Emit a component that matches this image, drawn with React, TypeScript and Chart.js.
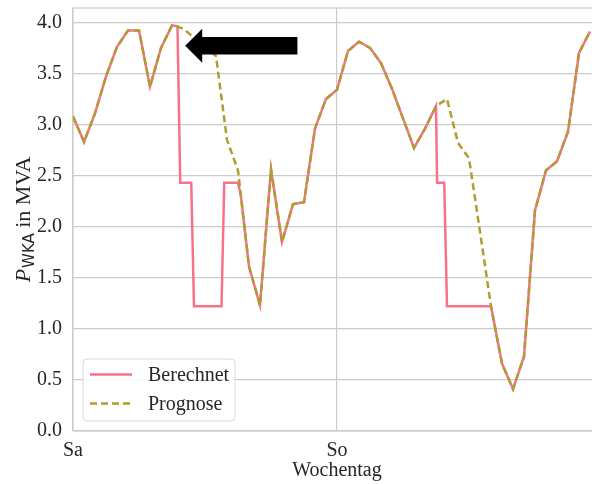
import React, { useEffect, useRef } from "react";
import { Chart, registerables } from "chart.js";

Chart.register(...registerables);

// ---------- data ----------
const DAY_LABELS = ["Sa", "So"];
const DAY_TICK_HOURS = [0, 24];

const PROGNOSE_HOURS = [
  0, 1, 2, 3, 4, 5, 6, 7, 8, 9, 10, 11, 12, 13, 14, 15, 16, 17, 18, 19, 20, 21, 22, 23,
  24, 25, 26, 27, 28, 29, 30, 31, 32, 33, 34, 35, 36, 37, 38, 39, 40, 41, 42, 43, 44, 45, 46, 47,
];
const PROGNOSE_VALUES = [
  3.08, 2.83, 3.11, 3.47, 3.76, 3.92, 3.92, 3.37, 3.75, 3.97, 3.94, 3.85, 3.76, 3.67, 2.85, 2.55,
  1.61, 1.23, 2.56, 1.85, 2.22, 2.24, 2.96, 3.25, 3.34, 3.72, 3.81, 3.75, 3.6, 3.35, 3.06, 2.77,
  2.96, 3.18, 3.25, 2.82, 2.67, 1.95, 1.22, 0.66, 0.41, 0.73, 2.16, 2.55, 2.64, 2.93, 3.7, 3.91,
];

const BERECHNET_HOURS = [
  0, 1, 2, 3, 4, 5, 6, 7, 8, 9, 9.5, 9.75, 10.75, 11, 13.5, 13.75, 15, 15.25, 16, 17, 18, 19, 20,
  21, 22, 23, 24, 25, 26, 27, 28, 29, 30, 31, 32, 33, 33.1, 33.75, 34, 38, 39, 40, 41, 42, 43, 44,
  45, 46, 47,
];
const BERECHNET_VALUES = [
  3.08, 2.83, 3.11, 3.47, 3.76, 3.92, 3.92, 3.37, 3.75, 3.97, 3.96, 2.43, 2.43, 1.22, 1.22, 2.43,
  2.43, 2.31, 1.61, 1.23, 2.56, 1.85, 2.22, 2.24, 2.96, 3.25, 3.34, 3.72, 3.81, 3.75, 3.6, 3.35,
  3.06, 2.77, 2.96, 3.18, 2.43, 2.43, 1.22, 1.22, 0.66, 0.41, 0.73, 2.16, 2.55, 2.64, 2.93, 3.7,
  3.91,
];

const SERIES_LABELS = ["Berechnet", "Prognose"];
const X_MIN = 0;
const X_MAX = 48;
const Y_MIN = 0;
const Y_MAX = 4.14;
const Y_STEP = 0.5;

// arrow annotation (data coordinates)
const ARROW_TIP_HOUR = 10.2;
const ARROW_TAIL_HOUR = 20.4;
const ARROW_VALUE = 3.77;

// ---------- styles ----------
const SERIF = "'Liberation Serif', 'Times New Roman', Times, serif";
const TEXT_COLOR = "#262626";
const GRID_COLOR = "#cccccc";
const PINK = "#f77189";
const OLIVE = "#ae9d31";
const DASH = [7, 4];

const framePlugin = {
  id: "frame",
  beforeDatasetsDraw(chart: any) {
    const { ctx, chartArea } = chart;
    ctx.save();
    ctx.strokeStyle = GRID_COLOR;
    ctx.lineWidth = 1.2;
    ctx.strokeRect(chartArea.left, chartArea.top, chartArea.right - chartArea.left, chartArea.bottom - chartArea.top);
    ctx.restore();
  },
};

const overlayPlugin = {
  id: "overlay",
  afterDraw(chart: any) {
    const { ctx, chartArea, scales } = chart;

    // ---- y axis title with subscript ----
    const cy = (chartArea.top + chartArea.bottom) / 2;
    const baseX = 30;
    ctx.save();
    ctx.translate(baseX, cy);
    ctx.rotate(-Math.PI / 2);
    const fMain = `22px ${SERIF}`;
    const fItal = `italic 22px ${SERIF}`;
    const fSub = "15px 'DejaVu Sans', sans-serif";
    ctx.font = fItal;
    const wP = ctx.measureText("P").width;
    ctx.font = fSub;
    const wS = ctx.measureText("WKA").width;
    ctx.font = fMain;
    const wR = ctx.measureText(" in MVA").width;
    const total = wP + 1 + wS + wR;
    let x = -total / 2;
    ctx.textBaseline = "alphabetic";
    ctx.textAlign = "left";
    ctx.fillStyle = TEXT_COLOR;
    ctx.font = fItal;
    ctx.fillText("P", x, 0);
    x += wP + 1;
    ctx.font = fSub;
    ctx.fillText("WKA", x, 4);
    x += wS;
    ctx.font = fMain;
    ctx.fillText(" in MVA", x, 0);
    ctx.restore();

    // ---- arrow ----
    const xs = scales.x;
    const ys = scales.y;
    const tipX = xs.getPixelForValue(ARROW_TIP_HOUR);
    const tailX = xs.getPixelForValue(ARROW_TAIL_HOUR);
    const ay = ys.getPixelForValue(ARROW_VALUE);
    const headLen = 17;
    const headHalf = 17;
    const shaftHalf = 8.7;
    ctx.save();
    ctx.fillStyle = "#000000";
    ctx.beginPath();
    ctx.moveTo(tipX, ay);
    ctx.lineTo(tipX + headLen, ay - headHalf);
    ctx.lineTo(tipX + headLen, ay - shaftHalf);
    ctx.lineTo(tailX, ay - shaftHalf);
    ctx.lineTo(tailX, ay + shaftHalf);
    ctx.lineTo(tipX + headLen, ay + shaftHalf);
    ctx.lineTo(tipX + headLen, ay + headHalf);
    ctx.closePath();
    ctx.fill();
    ctx.restore();

    // ---- legend ----
    const boxLeft = chartArea.left + 10;
    const boxBottom = chartArea.bottom - 10;
    const boxH = 62;
    const boxW = 152;
    const boxTop = boxBottom - boxH;
    ctx.save();
    ctx.beginPath();
    const r = 4;
    ctx.moveTo(boxLeft + r, boxTop);
    ctx.arcTo(boxLeft + boxW, boxTop, boxLeft + boxW, boxTop + boxH, r);
    ctx.arcTo(boxLeft + boxW, boxTop + boxH, boxLeft, boxTop + boxH, r);
    ctx.arcTo(boxLeft, boxTop + boxH, boxLeft, boxTop, r);
    ctx.arcTo(boxLeft, boxTop, boxLeft + boxW, boxTop, r);
    ctx.closePath();
    ctx.fillStyle = "rgba(255,255,255,0.8)";
    ctx.fill();
    ctx.strokeStyle = "#d9d9d9";
    ctx.lineWidth = 1;
    ctx.stroke();

    const datasets = chart.data.datasets;
    const rowYs = [boxTop + 15.5, boxTop + 44.5];
    datasets.forEach((ds: any, i: number) => {
      const y = rowYs[i];
      ctx.beginPath();
      ctx.setLineDash(ds.borderDash || []);
      ctx.strokeStyle = ds.borderColor;
      ctx.lineWidth = ds.borderWidth;
      ctx.moveTo(boxLeft + 7, y);
      ctx.lineTo(boxLeft + 49, y);
      ctx.stroke();
      ctx.setLineDash([]);
      ctx.fillStyle = TEXT_COLOR;
      ctx.font = `20px ${SERIF}`;
      ctx.textBaseline = "middle";
      ctx.textAlign = "left";
      ctx.fillText(ds.label, boxLeft + 65, y + 1);
    });
    ctx.restore();
  },
};

export default function App() {
  const canvasRef = useRef<HTMLCanvasElement | null>(null);

  useEffect(() => {
    const canvas = canvasRef.current;
    if (!canvas) return;

    const berechnet = BERECHNET_HOURS.map((h, i) => ({ x: h, y: BERECHNET_VALUES[i] }));
    const prognose = PROGNOSE_HOURS.map((h, i) => ({ x: h, y: PROGNOSE_VALUES[i] }));

    const chart = new Chart(canvas, {
      type: "line",
      data: {
        datasets: [
          {
            label: SERIES_LABELS[0],
            data: berechnet,
            borderColor: PINK,
            backgroundColor: PINK,
            borderWidth: 2.5,
            pointRadius: 0,
            tension: 0,
            order: 2,
          },
          {
            label: SERIES_LABELS[1],
            data: prognose,
            borderColor: OLIVE,
            backgroundColor: OLIVE,
            borderWidth: 2.5,
            borderDash: DASH,
            pointRadius: 0,
            tension: 0,
            order: 1,
          },
        ],
      },
      options: {
        animation: false,
        responsive: false,
        devicePixelRatio: 1,
        layout: { padding: { left: 0, top: 8, right: 9, bottom: 0 } },
        plugins: {
          legend: { display: false },
          tooltip: { enabled: false },
        },
        scales: {
          x: {
            type: "linear",
            min: X_MIN,
            max: X_MAX,
            afterBuildTicks: (scale: any) => {
              scale.ticks = DAY_TICK_HOURS.map((v) => ({ value: v }));
            },
            afterFit: (scale: any) => {
              scale.height = 53;
              scale.paddingLeft = 0;
              scale.paddingRight = 0;
            },
            ticks: {
              color: TEXT_COLOR,
              font: { family: SERIF, size: 20 },
              padding: 8,
              maxRotation: 0,
              autoSkip: false,
              callback: (v: any) => {
                const idx = DAY_TICK_HOURS.indexOf(Number(v));
                return idx >= 0 ? DAY_LABELS[idx] : "";
              },
            },
            grid: { color: GRID_COLOR, lineWidth: 1.2, drawTicks: false },
            border: { display: false },
            title: {
              display: true,
              text: "Wochentag",
              color: TEXT_COLOR,
              font: { family: SERIF, size: 20 },
              padding: { top: 0, bottom: 1 },
            },
          },
          y: {
            min: Y_MIN,
            max: Y_MAX,
            afterFit: (scale: any) => {
              scale.width = 73;
              scale.paddingTop = 0;
              scale.paddingBottom = 0;
            },
            ticks: {
              stepSize: Y_STEP,
              includeBounds: false,
              color: TEXT_COLOR,
              font: { family: SERIF, size: 20 },
              padding: 11,
              callback: (v: any) => Number(v).toFixed(1),
            },
            grid: { color: GRID_COLOR, lineWidth: 1.2, drawTicks: false },
            border: { display: false },
          },
        },
      },
      plugins: [framePlugin, overlayPlugin],
    });

    return () => chart.destroy();
  }, []);

  return (
    <div
      style={{
        position: "absolute",
        left: 0,
        top: 0,
        width: 592,
        height: 484,
        overflow: "hidden",
        background: "#ffffff",
      }}
    >
      <canvas ref={canvasRef} width={610} height={484} style={{ display: "block" }} />
    </div>
  );
}
